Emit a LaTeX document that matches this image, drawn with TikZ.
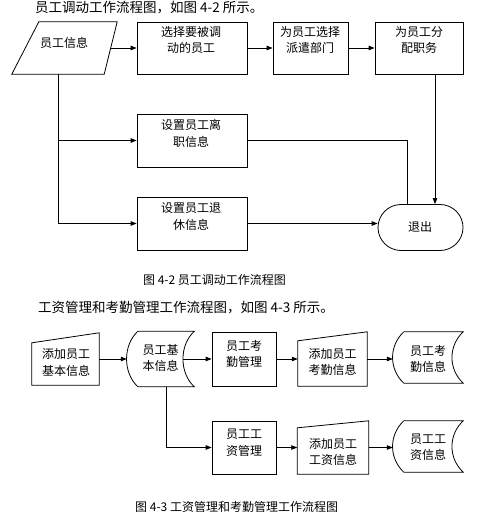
\documentclass[tikz,border=0pt]{standalone}
\usepackage{fontspec}
\newfontfamily\cjk{Noto Sans CJK SC}
\usetikzlibrary{arrows.meta,calc,shapes.misc}

% stored data outline round a blank node
\newcommand\storedata[1]{%
  \draw[line] ($(#1.north west)+(11,0)$) -- (#1.north east)
    .. controls +(-15,14) and +(-15,-14) .. (#1.south east)
    -- ($(#1.south west)+(11,0)$)
    .. controls +(-15,-14) and +(-15,14) .. ($(#1.north west)+(11,0)$);}
% manual input outline, #2 = drop of the top left corner
\newcommand\maninput[2]{%
  \draw[line] (#1.south west) -- ($(#1.north west)+(0,#2)$)
    -- (#1.north east) -- (#1.south east) -- cycle;}

\begin{document}
\begin{tikzpicture}[x=1pt,y=-1pt,
  line/.style={line width=0.8pt},
  flow/.style={line, -{Stealth[length=6pt,width=4.5pt,inset=0pt]}},
  box/.style={draw, line, rectangle, inner sep=0pt},
  blank/.style={rectangle, inner sep=0pt},
  txt/.style={align=center, inner sep=0pt, font=\cjk\fontsize{12}{16.5}\selectfont},
  bigtxt/.style={txt, font=\cjk\fontsize{13.5}{16}\selectfont},
  captxt/.style={txt, font=\cjk\fontsize{12}{14}\selectfont},
  endbox/.style={draw, line, rounded rectangle, inner sep=0pt}]

\path [use as bounding box] (0,0) rectangle (488,526);

% FIG 4-2
\node[bigtxt, anchor=west] (head1) at (35,7.5) {员工调动工作流程图，如图 4-2 所示。};

\node[blank, minimum width=105pt, minimum height=52pt] (info) at (64.5,48) {};
\draw[line] (info.south west) -- ($(info.north west)+(27,0)$) -- (info.north east)
  -- ($(info.south east)+(-13,0)$) -- cycle;
\node[txt] (info-t) at (64,43) {员工信息};

\node[box, minimum width=110pt, minimum height=52pt] (pick) at (192,48) {};
\node[txt] (pick-t) at (191,40) {选择要被调\\动的员工};
\node[box, minimum width=75pt, minimum height=52pt] (dept) at (310.5,48) {};
\node[txt] (dept-t) at (310,40) {为员工选择\\派遣部门};
\node[box, minimum width=88pt, minimum height=52pt] (duty) at (419,48) {};
\node[txt] (duty-t) at (419,40) {为员工分\\配职务};

\node[box, minimum width=110pt, minimum height=53pt] (leave) at (192,140.5) {};
\node[txt] (leave-t) at (191,133.5) {设置员工离\\职信息};
\node[box, minimum width=110pt, minimum height=53pt] (retire) at (192,223.5) {};
\node[txt] (retire-t) at (191,216.5) {设置员工退\\休信息};
\node[endbox, minimum width=85pt, minimum height=46pt] (quit) at (420.5,227.5) {};
\node[txt] (quit-t) at (420,227) {退出};

\coordinate (info-b) at ($(info.south)+(-6.5,0)$);
\coordinate (duty-b) at ($(duty.south)+(16,0)$);
\coordinate (quit-a) at ($(quit.north)+(-13.5,0)$);

\draw[flow] ($(info.east)+(-6.5,0)$) -- (pick.west);
\draw[flow] (pick.east) -- (dept.west);
\draw[flow] (dept.east) -- (duty.west);
\draw[flow] (info-b) |- (leave.west);
\draw[flow] (info-b) |- (retire.west);
\draw[line] (leave.east) -| (quit-a);
\draw[flow] (duty-b) -- (duty-b |- quit.north);
\draw[flow] (retire.east) -- (retire.east -| quit.west);

\node[captxt] (cap42) at (214.5,280) {图 4-2 员工调动工作流程图};

% FIG 4-3
\node[bigtxt, anchor=west] (head2) at (38,308) {工资管理和考勤管理工作流程图，如图 4-3 所示。};

\node[blank, minimum width=67pt, minimum height=52pt] (addbase) at (65.5,359) {};
\maninput{addbase}{10}
\node[txt] (addbase-t) at (66,362.5) {添加员工\\基本信息};

\node[blank, minimum width=67pt, minimum height=55pt] (base) at (160.5,359) {};
\storedata{base}
\node[txt] (base-t) at (160.5,358) {员工基\\本信息};

\node[box, minimum width=64pt, minimum height=54pt] (attend) at (244,359) {};
\node[txt] (attend-t) at (244,354) {员工考\\勤管理};

\node[blank, minimum width=69pt, minimum height=54pt] (addatt) at (332.5,359) {};
\maninput{addatt}{9}
\node[txt] (addatt-t) at (332.5,362) {添加员工\\考勤信息};

\node[blank, minimum width=70pt, minimum height=51pt] (attinfo) at (428,357.5) {};
\storedata{attinfo}
\node[txt] (attinfo-t) at (428,359) {员工考\\勤信息};

\node[box, minimum width=64pt, minimum height=53pt] (pay) at (244,447.5) {};
\node[txt] (pay-t) at (244,442.5) {员工工\\资管理};

\node[blank, minimum width=71pt, minimum height=53pt] (addpay) at (333,447.5) {};
\maninput{addpay}{7}
\node[txt] (addpay-t) at (333,452) {添加员工\\工资信息};

\node[blank, minimum width=70pt, minimum height=51pt] (payinfo) at (428,446.5) {};
\storedata{payinfo}
\node[txt] (payinfo-t) at (428,447) {员工工\\资信息};

\coordinate (base-b) at ($(base.south)+(5.5,0)$);

\draw[flow] (addbase.east) -- (addbase.east -| base.west);
\draw[flow] ($(base.east)+(-11,0)$) -- (attend.west);
\draw[flow] (attend.east) -- (addatt.west);
\draw[flow] (addatt.east) -- (addatt.east -| attinfo.west);
\draw[flow] (base-b) |- (pay.west);
\draw[flow] (pay.east) -- (addpay.west);
\draw[flow] (addpay.east) -- (addpay.east -| payinfo.west);

\node[captxt, anchor=west] (cap43) at (135,507) {图 4-3 工资管理和考勤管理工作流程图};

\end{tikzpicture}
\end{document}
